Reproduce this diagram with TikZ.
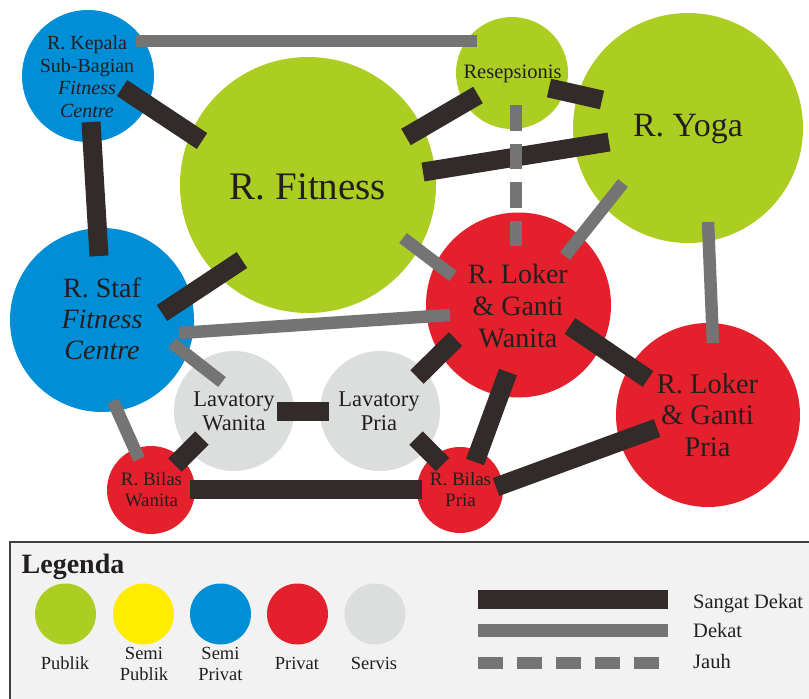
\documentclass[tikz,border=0pt]{standalone}
\usepackage{fontspec}
\setmainfont{Liberation Serif}
\definecolor{cgreen}{RGB}{172,206,34}
\definecolor{cyellow}{RGB}{255,237,0}
\definecolor{cblue}{RGB}{0,142,214}
\definecolor{cred}{RGB}{227,32,43}
\definecolor{clgray}{RGB}{220,221,221}
\definecolor{cblack}{RGB}{51,43,42}
\definecolor{cgray}{RGB}{116,116,116}
\definecolor{ctext}{RGB}{35,31,32}
\definecolor{cbox}{RGB}{242,242,242}
\definecolor{cboxline}{RGB}{64,64,64}
\begin{document}
\begin{tikzpicture}[x=1pt,y=-1pt,
  room/.style={circle,inner sep=0pt,minimum size=#1,draw=none},
  lbl/.style={text=ctext,align=center,anchor=base,inner sep=0pt},
  sd/.style={line width=19pt,draw=cblack},
  dk/.style={line width=12.5pt,draw=cgray},
  jh/.style={line width=12.5pt,draw=cgray,dash pattern=on 25.5pt off 13pt},
  jhl/.style={line width=12pt,draw=cgray,dash pattern=on 25pt off 14pt}]
\path[use as bounding box,fill=white] (0,0) rectangle (809,699);

% legend box
\begin{scope}
\clip (0,0) rectangle (809,699);
\draw[fill=cbox,draw=cboxline,line width=1.6pt] (10,542) rectangle (840,740);
\end{scope}

% rooms
\node[room=256pt,fill=cgreen] (fitness) at (308,185) {};
\node[room=230pt,fill=cgreen] (yoga) at (688,128) {};
\node[room=112pt,fill=cgreen] (resep) at (512,73) {};
\node[room=132pt,fill=cblue] (kepala) at (88,76) {};
\node[room=184pt,fill=cblue] (staf) at (102,320) {};
\node[room=185pt,fill=cred] (lokerw) at (518.5,305) {};
\node[room=184pt,fill=cred] (lokerp) at (708,415) {};
\node[room=120pt,fill=clgray] (lavw) at (234,411) {};
\node[room=120pt,fill=clgray] (lavp) at (380,411) {};
\node[room=88pt,fill=cred] (bilasw) at (151,490) {};
\node[room=86pt,fill=cred] (bilasp) at (460,490) {};

% labels (anchor base = baseline of last line)
\node[lbl,font=\fontsize{20}{22.5}\selectfont] (kepalaT) at (87,117) {R. Kepala\\Sub-Bagian\\\textit{Fitness}\\\textit{Centre}};
\node[lbl,font=\fontsize{39}{40}\selectfont] (fitnessT) at (308,199) {R. Fitness};
\node[lbl,font=\fontsize{20.5}{22}\selectfont] (resepT) at (512.5,78) {Resepsionis};
\node[lbl,font=\fontsize{34}{36}\selectfont] (yogaT) at (688,136.5) {R. Yoga};
\node[lbl,font=\fontsize{28}{31}\selectfont] (stafT) at (102,359) {R. Staf\\\textit{Fitness}\\\textit{Centre}};
\node[lbl,font=\fontsize{28}{32}\selectfont] (lokerwT) at (518,347) {R. Loker\\\&{} Ganti\\Wanita};
\node[lbl,font=\fontsize{28.5}{31.5}\selectfont] (lokerpT) at (707.5,456) {R. Loker\\\&{} Ganti\\Pria};
\node[lbl,font=\fontsize{22.5}{24}\selectfont] (lavwT) at (234,430) {Lavatory\\Wanita};
\node[lbl,font=\fontsize{22.5}{24}\selectfont] (lavpT) at (379,430) {Lavatory\\Pria};
\node[lbl,font=\fontsize{19}{21}\selectfont] (bilaswT) at (151.5,506.5) {R. Bilas\\Wanita};
\node[lbl,font=\fontsize{19}{21}\selectfont] (bilaspT) at (460.5,506.5) {R. Bilas\\Pria};

% connector end points
\coordinate (a1) at (136,41);   \coordinate (a2) at (477,41);
\coordinate (b1) at (122,88);   \coordinate (b2) at (202,141);
\coordinate (c1) at (91,122);   \coordinate (c2) at (99,256);
\coordinate (d1) at (406,137);  \coordinate (d2) at (478,95);
\coordinate (e1) at (549,88);   \coordinate (e2) at (602,100);
\coordinate (f1) at (423,172);  \coordinate (f2) at (609,142);
\coordinate (g1) at (516,105);  \coordinate (g2) at (516,246);
\coordinate (h1) at (623,183);  \coordinate (h2) at (565,256);
\coordinate (i1) at (708,222);  \coordinate (i2) at (713,343);
\coordinate (j1) at (403,238);  \coordinate (j2) at (453,276);
\coordinate (k1) at (162,313);  \coordinate (k2) at (242,260);
\coordinate (l1) at (179,333);  \coordinate (l2) at (450,315);
\coordinate (m1) at (172,343);  \coordinate (m2) at (222,382);
\coordinate (n1) at (113,401);  \coordinate (n2) at (139,459);
\coordinate (o1) at (277,411);  \coordinate (o2) at (329,411);
\coordinate (p1) at (175,465);  \coordinate (p2) at (202,438);
\coordinate (q1) at (190,489.5);\coordinate (q2) at (422,489.5);
\coordinate (r1) at (417,377);  \coordinate (r2) at (455.5,339);
\coordinate (s1) at (416,438);  \coordinate (s2) at (442.5,464.5);
\coordinate (t1) at (475,462);  \coordinate (t2) at (508,372);
\coordinate (u1) at (496,487);  \coordinate (u2) at (657,428);
\coordinate (v1) at (570,326);  \coordinate (v2) at (648,379);

% connectors
\draw[dk] (a1) -- (a2);
\draw[sd] (b1) -- (b2);
\draw[sd] (c1) -- (c2);
\draw[sd] (d1) -- (d2);
\draw[sd] (e1) -- (e2);
\draw[sd] (f1) -- (f2);
\draw[jh] (g1) -- (g2);
\draw[dk] (h1) -- (h2);
\draw[dk] (i1) -- (i2);
\draw[dk] (j1) -- (j2);
\draw[sd] (k1) -- (k2);
\draw[dk] (l1) -- (l2);
\draw[dk] (m1) -- (m2);
\draw[dk] (n1) -- (n2);
\draw[sd] (o1) -- (o2);
\draw[sd] (p1) -- (p2);
\draw[sd] (q1) -- (q2);
\draw[sd] (r1) -- (r2);
\draw[sd] (s1) -- (s2);
\draw[sd] (t1) -- (t2);
\draw[sd] (u1) -- (u2);
\draw[sd] (v1) -- (v2);

% legend
\node[text=ctext,anchor=base west,inner sep=0pt,font=\fontsize{28}{30}\selectfont\bfseries] (legT) at (21.5,573) {Legenda};
\node[room=61pt,fill=cgreen] (lg1) at (65.5,614) {};
\node[room=61pt,fill=cyellow] (lg2) at (143.5,614) {};
\node[room=61pt,fill=cblue] (lg3) at (220.5,614) {};
\node[room=61pt,fill=cred] (lg4) at (297.5,614) {};
\node[room=61pt,fill=clgray] (lg5) at (375,614) {};
\node[lbl,font=\fontsize{18.5}{21}\selectfont] (lg1T) at (65,669.5) {Publik};
\node[lbl,font=\fontsize{18.5}{21}\selectfont] (lg2T) at (144,680) {Semi\\Publik};
\node[lbl,font=\fontsize{18.5}{21}\selectfont] (lg3T) at (220.5,680) {Semi\\Privat};
\node[lbl,font=\fontsize{18.5}{21}\selectfont] (lg4T) at (297,669.5) {Privat};
\node[lbl,font=\fontsize{18.5}{21}\selectfont] (lg5T) at (374,669.5) {Servis};

\coordinate (ls1) at (478,599.5); \coordinate (ls2) at (668,599.5);
\coordinate (ld1) at (478,630.5); \coordinate (ld2) at (668,630.5);
\coordinate (lj1) at (478,662.5); \coordinate (lj2) at (660,662.5);
\draw[sd] (ls1) -- (ls2);
\draw[dk] (ld1) -- (ld2);
\draw[jhl] (lj1) -- (lj2);
\node[text=ctext,anchor=base west,inner sep=0pt,font=\fontsize{20.5}{22}\selectfont] (lsT) at (693,608.5) {Sangat Dekat};
\node[text=ctext,anchor=base west,inner sep=0pt,font=\fontsize{20.5}{22}\selectfont] (ldT) at (693,637.5) {Dekat};
\node[text=ctext,anchor=base west,inner sep=0pt,font=\fontsize{20.5}{22}\selectfont] (ljT) at (693,668.5) {Jauh};
\end{tikzpicture}
\end{document}
